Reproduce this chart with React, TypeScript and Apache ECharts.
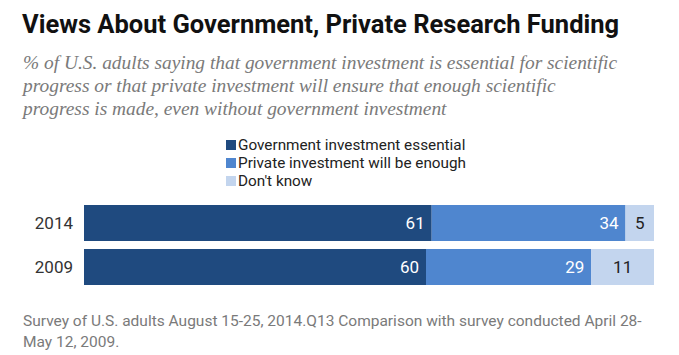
import React, { useEffect, useRef } from "react";
import * as echarts from "echarts";

const titleText = "Views About Government, Private Research Funding";
const subtitleLines = [
  "% of U.S. adults saying that government investment is essential for scientific",
  "progress or that private investment will ensure that enough scientific",
  "progress is made, even without government investment",
];
const footerLines = [
  "Survey of U.S. adults August 15-25, 2014.Q13 Comparison with survey conducted April 28-",
  "May 12, 2009.",
];
const years = ["2014", "2009"];
const seriesNames = [
  "Government investment essential",
  "Private investment will be enough",
  "Don't know",
];
const government = [61, 60];
const privateInv = [34, 29];
const dontKnow = [5, 11];
const colors = ["#1f4a7f", "#4f86cf", "#c3d5ee"];

export default function App() {
  const ref = useRef<HTMLDivElement>(null);
  useEffect(() => {
    if (!ref.current) return;
    const chart = echarts.init(ref.current, null, { renderer: "svg" });
    const sans = "Roboto, 'Liberation Sans', sans-serif";
    const serif = "'Liberation Serif', 'DejaVu Serif', serif";
    const label = (color: string, pos: string) => ({
      show: true,
      position: pos,
      color,
      fontSize: 17,
      fontFamily: sans,
      distance: 7,
      formatter: "{c}",
    });
    chart.setOption({
      animation: false,
      backgroundColor: "#ffffff",
      graphic: [
        {
          type: "text",
          left: 22,
          top: 11,
          style: {
            text: titleText,
            font: `bold 25.5px ${sans}`,
            fill: "#111111",
          },
        },
        ...subtitleLines.map((t, i) => ({
          type: "text",
          left: 23,
          top: 53 + i * 23,
          style: {
            text: t,
            font: `italic 19.4px ${serif}`,
            fill: "#7a7a7a",
          },
        })),
        ...footerLines.map((t, i) => ({
          type: "text",
          left: 23,
          top: 313 + i * 21,
          style: {
            text: t,
            font: `15.5px ${sans}`,
            fill: "#7a7a7a",
          },
        })),
      ],
      legend: {
        orient: "vertical",
        left: 221,
        top: 132,
        itemWidth: 10,
        itemHeight: 10,
        itemGap: 2,
        icon: "rect",
        data: seriesNames,
        textStyle: {
          fontSize: 15.3,
          lineHeight: 16,
          fontFamily: sans,
          color: "#222222",
          padding: [0, 0, 0, -3],
        },
      },
      grid: { left: 84, right: 25, top: 201, height: 88, containLabel: false },
      xAxis: { type: "value", min: 0, max: 100, show: false },
      yAxis: {
        type: "category",
        data: years,
        inverse: true,
        axisLine: { show: false },
        axisTick: { show: false },
        axisLabel: {
          fontSize: 17,
          fontFamily: sans,
          color: "#333333",
          margin: 11,
        },
      },
      series: [
        {
          name: seriesNames[0],
          type: "bar",
          stack: "t",
          barWidth: 36,
          data: government,
          itemStyle: { color: colors[0] },
          label: label("#ffffff", "insideRight"),
        },
        {
          name: seriesNames[1],
          type: "bar",
          stack: "t",
          barWidth: 36,
          data: privateInv,
          itemStyle: { color: colors[1] },
          label: label("#ffffff", "insideRight"),
        },
        {
          name: seriesNames[2],
          type: "bar",
          stack: "t",
          barWidth: 36,
          data: dontKnow,
          itemStyle: { color: colors[2] },
          label: label("#222222", "inside"),
        },
      ],
    });
    return () => chart.dispose();
  }, []);
  return (
    <div
      ref={ref}
      style={{ position: "fixed", left: 0, top: 0, width: 679, height: 355 }}
    />
  );
}
